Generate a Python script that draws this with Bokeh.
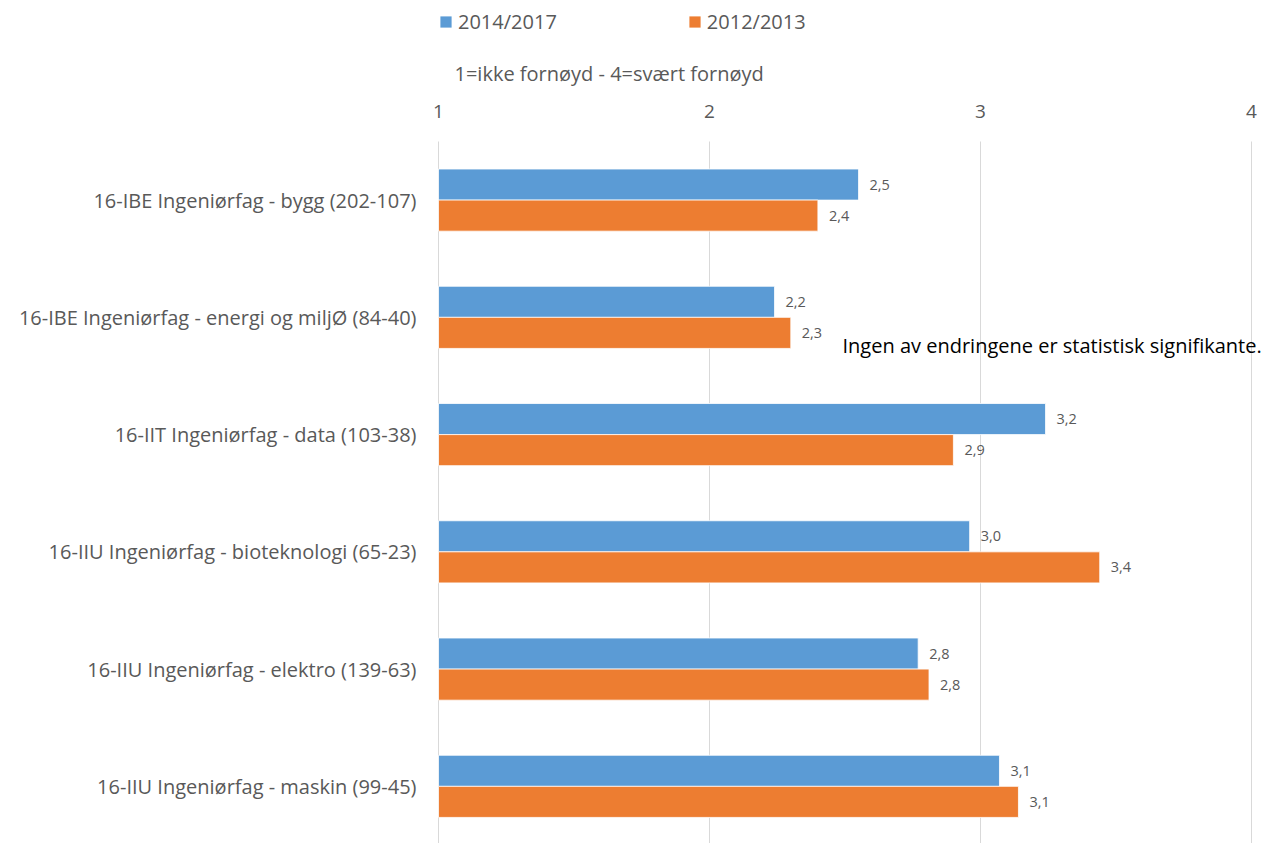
from bokeh.plotting import figure
from bokeh.models import (Range1d, Label, Legend, LegendItem, ColumnDataSource, FixedTicker)
from bokeh.core.properties import value
from bokeh.embed import file_html
from bokeh.resources import INLINE

categories = [
    "16-IBE Ingeniørfag - bygg (202-107)",
    "16-IBE Ingeniørfag - energi og miljØ (84-40)",
    "16-IIT Ingeniørfag - data (103-38)",
    "16-IIU Ingeniørfag - bioteknologi (65-23)",
    "16-IIU Ingeniørfag - elektro (139-63)",
    "16-IIU Ingeniørfag - maskin (99-45)",
]
series_names = ["2014/2017", "2012/2013"]
values_2014_2017 = [2.55, 2.24, 3.24, 2.96, 2.77, 3.07]
values_2012_2013 = [2.40, 2.30, 2.90, 3.44, 2.81, 3.14]
x_ticks = [1, 2, 3, 4]
x_tick_labels = ["1", "2", "3", "4"]
axis_title = "1=ikke fornøyd - 4=svært fornøyd"
note_text = "Ingen av endringene er statistisk signifikante."

FONT = "Open Sans"
BLUE = "#5B9BD5"
ORANGE = "#ED7D31"
GREY = "#595959"

W, H = 1265, 843
LEFT = 430            # frame left edge (px)
X1_PX = 438           # px position of value 1
PX_PER_X = 271.0      # px per unit on the value axis
ROW = 117.25          # px per category row
FIRST = 199.6         # px (from top) of first category centre


def y_of(px):
    """data y (category units, flipped) for a pixel row measured from the top"""
    return (px - FIRST) / ROW


def fmt(v):
    return f"{v:.1f}".replace(".", ",")


idx = list(range(len(categories)))
off = 0.1325
bar_h = 0.265

src = ColumnDataSource(data=dict(
    ya=[i - off for i in idx],
    yb=[i + off for i in idx],
    a=values_2014_2017,
    b=values_2012_2013,
    a_lbl=[fmt(v) for v in values_2014_2017],
    b_lbl=[fmt(v) for v in values_2012_2013],
))

p = figure(
    width=W, height=H,
    x_range=Range1d(1 - (X1_PX - LEFT) / PX_PER_X, 1 + (W - X1_PX) / PX_PER_X),
    y_range=Range1d(y_of(H), y_of(0)),
    x_axis_location=None,
    output_backend="svg", toolbar_location=None,
    min_border_left=LEFT, min_border_right=0, min_border_top=0, min_border_bottom=0,
)
p.xgrid.visible = False
p.ygrid.visible = False
p.outline_line_color = None

# vertical grid lines at the value ticks
p.segment(x0=x_ticks, x1=x_ticks, y0=[y_of(141)] * len(x_ticks), y1=[y_of(H)] * len(x_ticks),
          line_color="#D9D9D9", line_width=1)

ra = p.hbar(y="ya", left=1, right="a", height=bar_h, source=src,
            fill_color=BLUE, line_color="white", line_width=0.8)
rb = p.hbar(y="yb", left=1, right="b", height=bar_h, source=src,
            fill_color=ORANGE, line_color="white", line_width=0.8)

p.text(x="a", y="ya", text="a_lbl", source=src, x_offset=11, text_baseline="middle",
       text_font=value(FONT), text_font_size="14.5px", text_color=GREY)
p.text(x="b", y="yb", text="b_lbl", source=src, x_offset=11, text_baseline="middle",
       text_font=value(FONT), text_font_size="14.5px", text_color=GREY)

# value-axis tick labels along the top
p.text(x=x_ticks, y=[y_of(111)] * len(x_ticks), text=x_tick_labels,
       text_align="center", text_baseline="middle",
       text_font=value(FONT), text_font_size="19px", text_color=GREY)

# category axis
ya = p.yaxis[0]
ya.ticker = FixedTicker(ticks=idx)
ya.major_label_overrides = {i: c for i, c in zip(idx, categories)}
ya.axis_line_color = None
ya.major_tick_line_color = None
ya.minor_tick_line_color = None
ya.major_label_text_font = FONT
ya.major_label_text_font_size = "20px"
ya.major_label_text_color = GREY
ya.major_label_standoff = 16 - (X1_PX - LEFT)

# axis title
p.add_layout(Label(x=454 - LEFT, y=H - 73, x_units="screen", y_units="screen", text=axis_title,
                   text_font=FONT, text_font_size="20px", text_color=GREY,
                   text_baseline="middle"))

# note
p.add_layout(Label(x=842 - LEFT, y=H - 345, x_units="screen", y_units="screen", text=note_text,
                   text_font=FONT, text_font_size="20px", text_color="black",
                   text_baseline="middle"))

legend = Legend(
    items=[LegendItem(label=series_names[0], renderers=[ra]),
           LegendItem(label=series_names[1], renderers=[rb])],
    orientation="horizontal", location=(X1_PX - LEFT, H - 35),
    glyph_width=15, glyph_height=15, label_standoff=5, spacing=130,
    padding=0, margin=0, border_line_color=None, background_fill_alpha=0,
    label_text_font=FONT, label_text_font_size="20px", label_text_color=GREY,
)
p.add_layout(legend)

open("out.html", "w").write(file_html(p, INLINE))
